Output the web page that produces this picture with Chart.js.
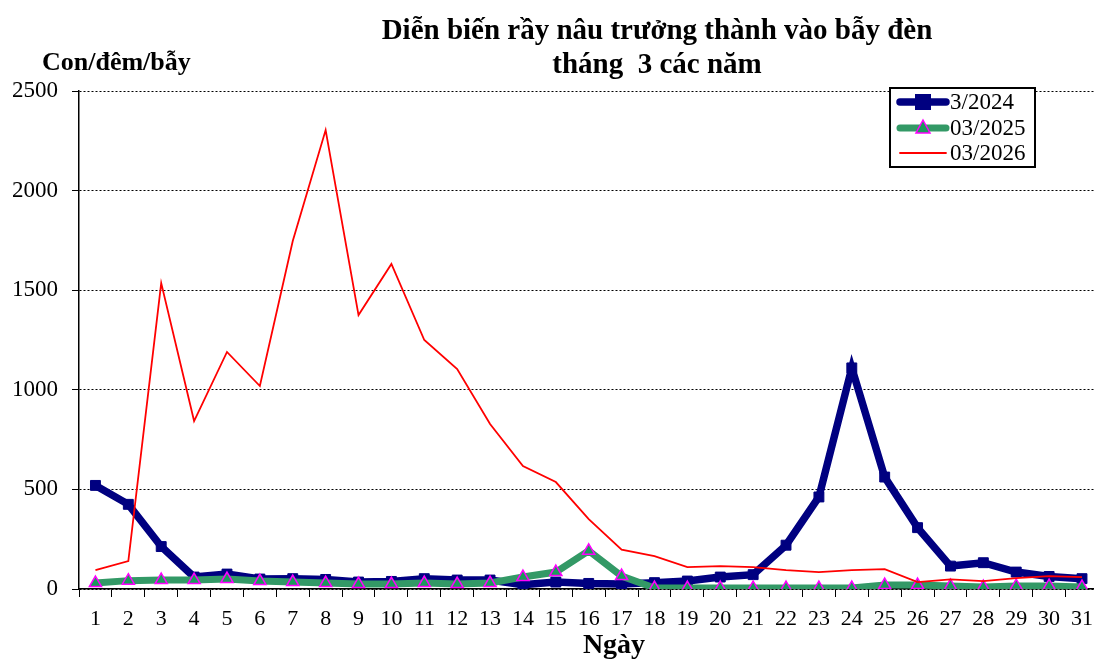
<!DOCTYPE html>
<html>
<head>
<meta charset="utf-8">
<script src="https://cdn.jsdelivr.net/npm/chart.js@4.4.1/dist/chart.umd.min.js"></script>
<style>
  html, body { margin: 0; padding: 0; background: #fff; overflow: hidden; }
  #wrap { width: 1094px; height: 661px; overflow: hidden; }
  canvas { display: block; }
</style>
</head>
<body>
<div id="wrap"><canvas id="chart" width="1102" height="661"></canvas></div>
<script>
/* ---------- DATA ---------- */
const days = Array.from({ length: 31 }, (_, i) => String(i + 1));

const yTicks = [0, 500, 1000, 1500, 2000, 2500];

const s2024 = [520, 425, 213, 60, 75, 50, 52, 48, 35, 38, 52, 45, 45, 22, 35, 28, 25, 32, 40, 60, 72,
  220, 462, 1110, 562, 308, 115, 132, 85, 63, 52];

const s2025 = [30, 42, 45, 45, 50, 40, 35, 30, 25, 25, 30, 25, 30, 60, 85, 192, 65, 5, 5, 5, 5,
  5, 5, 5, 20, 20, 15, 10, 15, 15, 10];

const s2026 = [95, 140, 1536, 843, 1190, 1019, 1747, 2304, 1375, 1632, 1250, 1104, 828, 617, 537, 351,
  198, 165, 110, 115, 110, 95, 85, 95, 100, 35, 48, 40, 55, 65, 60];

const seriesNames = ['3/2024', '03/2025', '03/2026'];

const SERIF = '"Liberation Serif", "DejaVu Serif", serif';

/* ---------- CUSTOM TEXT + LEGEND ---------- */
const decorPlugin = {
  id: 'decor',
  afterDraw(chart) {
    const ctx = chart.ctx;
    ctx.save();
    ctx.fillStyle = '#000';
    ctx.textAlign = 'center';
    ctx.textBaseline = 'middle';
    ctx.font = 'bold 29px ' + SERIF;
    ctx.fillText('Diễn biến rầy nâu trưởng thành vào bẫy đèn', 657, 32);
    ctx.fillText('tháng  3 các năm', 657, 66);

    ctx.font = 'bold 28px ' + SERIF;
    ctx.fillText('Ngày', 614, 646);

    ctx.textAlign = 'left';
    ctx.font = 'bold 26px ' + SERIF;
    ctx.fillText('Con/đêm/bẫy', 42, 63);

    // legend box
    const bx = 890, by = 88, bw = 145, bh = 79;
    ctx.fillStyle = '#fff';
    ctx.fillRect(bx, by, bw, bh);
    ctx.strokeStyle = '#000';
    ctx.lineWidth = 2;
    ctx.strokeRect(bx, by, bw, bh);

    const rows = [by + 14, by + 40, by + 65];
    chart.data.datasets.forEach((ds, i) => {
      const y = rows[i];
      ctx.strokeStyle = ds.borderColor;
      ctx.lineWidth = ds.borderWidth;
      ctx.lineCap = 'round';
      ctx.beginPath();
      ctx.moveTo(bx + 10, y);
      ctx.lineTo(bx + 56, y);
      ctx.stroke();
      if (ds.pointStyle === 'rect') {
        ctx.fillStyle = ds.pointBackgroundColor;
        ctx.fillRect(bx + 33 - 8, y - 8, 16, 16);
      } else if (ds.pointStyle === 'triangle') {
        ctx.fillStyle = ds.pointBackgroundColor;
        ctx.strokeStyle = ds.pointBorderColor;
        ctx.lineWidth = 1.5;
        ctx.beginPath();
        ctx.moveTo(bx + 33, y - 8);
        ctx.lineTo(bx + 40, y + 5);
        ctx.lineTo(bx + 26, y + 5);
        ctx.closePath();
        ctx.fill();
        ctx.stroke();
      }
      ctx.fillStyle = '#000';
      ctx.font = '23px ' + SERIF;
      ctx.textAlign = 'left';
      ctx.fillText(ds.label, bx + 60, y + 1);
    });
    ctx.restore();
  }
};

/* ---------- CHART ---------- */
new Chart(document.getElementById('chart'), {
  type: 'line',
  data: {
    labels: days,
    datasets: [
      {
        label: seriesNames[0],
        data: s2024,
        borderColor: '#000080',
        backgroundColor: '#000080',
        borderWidth: 7.5,
        pointStyle: 'rect',
        pointRadius: 7,
        pointBackgroundColor: '#000080',
        pointBorderColor: '#000080',
        pointBorderWidth: 1,
        tension: 0,
        order: 2
      },
      {
        label: seriesNames[1],
        data: s2025,
        borderColor: '#339966',
        backgroundColor: '#339966',
        borderWidth: 7,
        pointStyle: 'triangle',
        pointRadius: 7,
        pointBackgroundColor: '#1a9a5a',
        pointBorderColor: '#ff00ff',
        pointBorderWidth: 1.5,
        tension: 0,
        order: 1
      },
      {
        label: seriesNames[2],
        data: s2026,
        borderColor: '#ff0000',
        backgroundColor: '#ff0000',
        borderWidth: 1.8,
        pointRadius: 0,
        tension: 0,
        order: 0
      }
    ]
  },
  options: {
    responsive: false,
    animation: false,
    layout: { autoPadding: false, padding: { top: 91, right: 0, left: 0, bottom: 0 } },
    plugins: {
      legend: { display: false },
      title: { display: false },
      tooltip: { enabled: false }
    },
    scales: {
      x: {
        offset: true,
        grid: {
          offset: true,
          drawOnChartArea: false,
          drawTicks: true,
          tickLength: 8,
          color: '#000'
        },
        border: { color: '#000', width: 1.5 },
        ticks: {
          color: '#000',
          font: { family: SERIF, size: 22 },
          padding: 9,
          maxRotation: 0,
          autoSkip: false
        },
        afterFit(scale) { scale.height = 72; }
      },
      y: {
        min: 0,
        max: 2500,
        afterBuildTicks(scale) { scale.ticks = yTicks.map(v => ({ value: v })); },
        grid: {
          color: '#000',
          lineWidth: 1,
          tickLength: 7,
          tickColor: '#000'
        },
        border: { color: '#000', width: 1.5, dash: [2, 2], display: true },
        ticks: {
          color: '#000',
          font: { family: SERIF, size: 23 },
          padding: 14,
          callback: v => String(v)
        },
        afterFit(scale) { scale.width = 79; }
      }
    }
  },
  plugins: [decorPlugin]
});
</script>
</body>
</html>
